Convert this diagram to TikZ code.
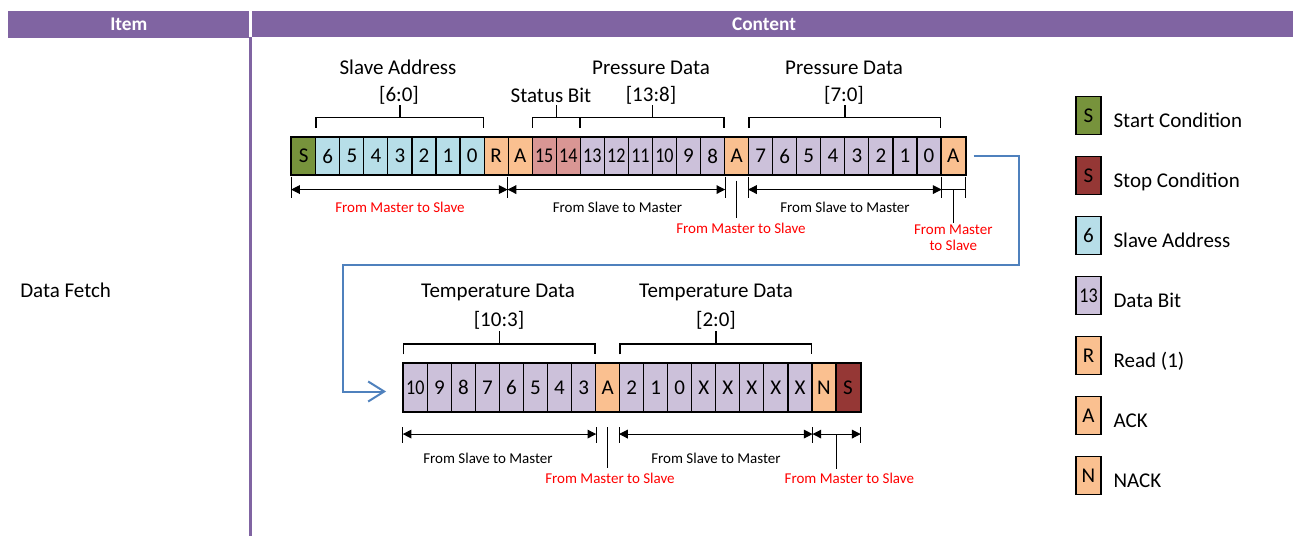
\documentclass[tikz,border=0pt]{standalone}
\usepackage{fontspec}
\setmainfont{Carlito}
\usepackage{graphicx}
\usetikzlibrary{arrows.meta,calc}
\definecolor{cgreen}{HTML}{77933C}
\definecolor{cdred}{HTML}{953735}
\definecolor{clblue}{HTML}{B7DEE8}
\definecolor{clav}{HTML}{CCC1DA}
\definecolor{corange}{HTML}{FAC090}
\definecolor{cpink}{HTML}{D99694}
\definecolor{cpurple}{HTML}{8064A2}
\definecolor{cflow}{HTML}{4F81BD}
\definecolor{cred}{HTML}{FF0000}
\newcommand\nn[1]{\scalebox{0.86}[1]{#1}}
\tikzset{
  cell/.style={draw=black, line width=0.85pt, inner sep=0pt, minimum width=18.04pt,
    font=\fontsize{15.75pt}{18pt}\selectfont},
  frame/.style={draw=black, line width=1.3pt},
  lbl/.style={inner sep=0pt, text height=10.1pt, text depth=0pt,
    font=\fontsize{15.75pt}{18pt}\selectfont},
  small/.style={inner sep=0pt, text height=7.25pt, text depth=0pt,
    font=\fontsize{11.25pt}{12pt}\selectfont},
  smallml/.style={inner sep=0pt, align=center,
    font=\fontsize{11.25pt}{12pt}\selectfont},
  hdr/.style={inner sep=0pt, text height=9.4pt, text depth=0pt, text=white,
    font=\fontsize{14.5pt}{16pt}\selectfont\bfseries},
  brk/.style={line width=1.1pt},
  bar/.style={line width=0.75pt},
  dim/.style={line width=0.75pt, {Triangle[length=6.5pt,width=6.5pt]}-{Triangle[length=6.5pt,width=6.5pt]}},
  flow/.style={draw=cflow, line width=1.5pt, -{Straight Barb[length=12pt,width=15pt]}},
}
\newcommand\bracketover[2]{%
  \coordinate (bl) at ([xshift=0.75pt,yshift=6.5pt]#1.north west);
  \coordinate (br) at ([xshift=-0.75pt,yshift=6.5pt]#2.north east);
  \draw[brk] (bl) -- ++(0,-10.5) -| (br);
  \draw[brk] ($(bl)!0.5!(br)+(0,-10.5)$) -- ++(0,-12.5);
}
\begin{document}
\begin{tikzpicture}[x=0.75pt,y=-0.75pt]
\useasboundingbox (0,0) rectangle (1293,536);
% header
\fill[cpurple] (8,11) rectangle (249,37.6);
\fill[cpurple] (252,11) rectangle (1293,37.4);
\node[hdr] (hItem) at (128.8,24.5) {Item};
\node[hdr] (hContent) at (764,24.5) {Content};
\draw[cpurple, line width=1.9pt] (250.4,37.4) -- (250.4,536);
\node[lbl, anchor=west] (item) at (20,290.5) {Data Fetch};

% row 1
\foreach \t/\c [count=\i from 0] in {S/cgreen,6/clblue,5/clblue,4/clblue,3/clblue,2/clblue,1/clblue,0/clblue,R/corange,A/corange,\nn{15}/cpink,\nn{14}/cpink,\nn{13}/clav,\nn{12}/clav,\nn{11}/clav,\nn{10}/clav,9/clav,8/clav,A/corange,7/clav,6/clav,5/clav,4/clav,3/clav,2/clav,1/clav,0/clav,A/corange}{
  \node[cell, minimum height=28.5pt, fill=\c] (r1c\i) at ({291.7+(\i+0.5)*24.05},156) {\t};
}
\draw[frame] (r1c0.north west) rectangle (r1c27.south east);

% row 2
\foreach \t/\c [count=\i from 0] in {\nn{10}/clav,9/clav,8/clav,7/clav,6/clav,5/clav,4/clav,3/clav,A/corange,2/clav,1/clav,0/clav,X/clav,X/clav,X/clav,X/clav,X/clav,N/corange,S/cdred}{
  \node[cell, minimum height=36pt, fill=\c] (r2c\i) at ({403.3+(\i+0.5)*24.04},387.5) {\t};
}
\draw[frame] (r2c0.north west) rectangle (r2c18.south east);

% brackets and labels row 1
\bracketover{r1c1}{r1c7}
\bracketover{r1c10}{r1c11}
\bracketover{r1c12}{r1c17}
\bracketover{r1c19}{r1c26}
\node[lbl] (tSA) at (398,67.5) {Slave Address};
\node[lbl] (tSA2) at (399,95) {[6:0]};
\node[lbl] (tSB) at (551,95.5) {Status Bit};
\node[lbl] (tPD) at (651,67.5) {Pressure Data};
\node[lbl] (tPD2) at (651,95) {[13:8]};
\node[lbl] (tPL) at (844,67.5) {Pressure Data};
\node[lbl] (tPL2) at (844,95) {[7:0]};

% brackets and labels row 2
\bracketover{r2c0}{r2c7}
\bracketover{r2c9}{r2c16}
\node[lbl] (tTD) at (498,291) {Temperature Data};
\node[lbl] (tTD2) at (499,320) {[10:3]};
\node[lbl] (tTL) at (716,291) {Temperature Data};
\node[lbl] (tTL2) at (716,320) {[2:0]};

% dimension lines row 1
\foreach \p in {r1c0.south west, r1c9.south west, r1c17.south east, r1c19.south west, r1c26.south east, r1c27.south east}{
  \draw[bar] ($(\p)+(0,1)$) -- ($(\p)+(0,22)$);
}
\draw[dim] ($(r1c0.south west)+(0,14)$) -- ($(r1c9.south west)+(0,14)$);
\draw[dim] ($(r1c9.south west)+(0,14)$) -- ($(r1c17.south east)+(0,14)$);
\draw[dim] ($(r1c19.south west)+(0,14)$) -- ($(r1c26.south east)+(0,14)$);
\draw[bar] ($(r1c26.south east)+(0,14)$) -- ($(r1c27.south east)+(0,14)$);
\draw[bar] ($(r1c18.south)+(0,5)$) -- ($(r1c18.south)+(0,42)$);
\draw[bar] ($(r1c27.south)+(0,14)$) -- ($(r1c27.south)+(0,47)$);
\node[small, text=cred] (m1) at (400,207.7) {From Master to Slave};
\node[small] (m2) at (617.5,207.5) {From Slave to Master};
\node[small, text=cred] (m3) at (741,229) {From Master to Slave};
\node[small] (m4) at (845,207.3) {From Slave to Master};
\node[smallml, text=cred] (m5) at (953.3,238) {From Master\\to Slave};

% dimension lines row 2
\foreach \p in {r2c0.south west, r2c7.south east, r2c9.south west, r2c16.south east, r2c18.south east}{
  \draw[bar] ($(\p)+(0,15)$) -- ($(\p)+(0,31)$);
}
\draw[dim] ($(r2c0.south west)+(0,22)$) -- ($(r2c7.south east)+(0,22)$);
\draw[dim] ($(r2c9.south west)+(0,22)$) -- ($(r2c16.south east)+(0,22)$);
\draw[dim] ($(r2c16.south east)+(0,22)$) -- ($(r2c18.south east)+(0,22)$);
\draw[bar] ($(r2c8.south)+(0,15)$) -- ($(r2c8.south)+(0,56)$);
\draw[bar] ($(r2c16.south east)!0.5!(r2c18.south east)+(0,22)$) -- ++(0,35);
\node[small] (n1) at (488,458.3) {From Slave to Master};
\node[small, text=cred] (n2) at (610,478.3) {From Master to Slave};
\node[small] (n3) at (716,458.3) {From Slave to Master};
\node[small, text=cred] (n4) at (849.3,478.3) {From Master to Slave};

% flow connector
\coordinate (t1) at (1019,265);
\coordinate (t2) at (343.3,265);
\draw[flow] ([xshift=6pt]r1c27.east) -| (t1) -- (t2) |- ([shift={(-12.5pt,-3pt)}]r2c0.west);

% legend
\foreach \t/\c/\l [count=\i from 0] in {S/cgreen/Start Condition, S/cdred/Stop Condition, 6/clblue/Slave Address, \nn{13}/clav/Data Bit, R/corange/Read (1), A/corange/ACK, N/corange/NACK}{
  \node[cell, minimum width=18.75pt, minimum height=28.5pt, fill=\c] (lg\i) at (1088.5,{115.8+60*\i}) {\t};
  \node[lbl, anchor=west] (lgt\i) at (1113.3,{121+60*\i}) {\l};
}
\end{tikzpicture}
\end{document}
